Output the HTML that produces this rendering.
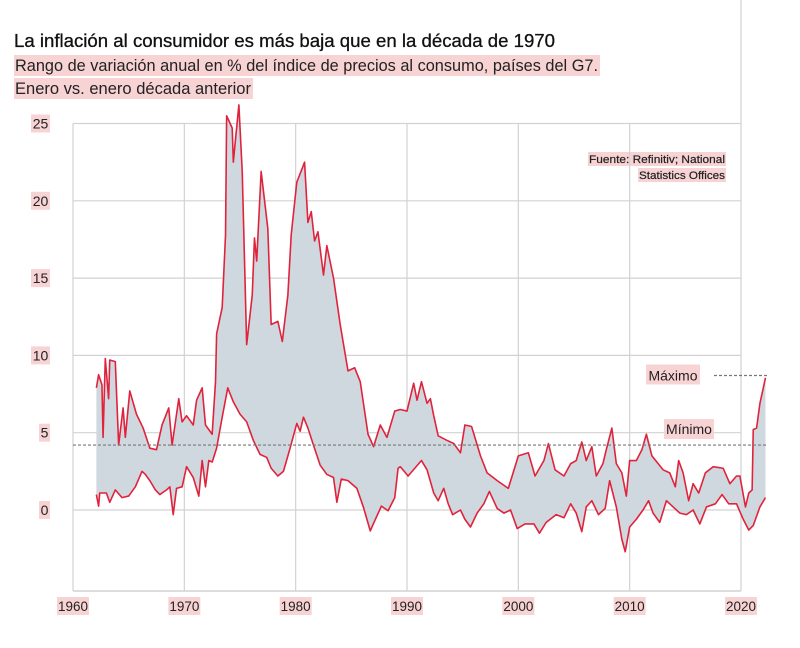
<!DOCTYPE html>
<html><head><meta charset="utf-8">
<style>
html,body{margin:0;padding:0;background:#fff;}
body{width:800px;height:643px;overflow:hidden;font-family:"Liberation Sans",sans-serif;}
svg text{font-family:"Liberation Sans",sans-serif;}
</style></head>
<body>
<svg id="chart" width="800" height="643" viewBox="0 0 800 643" xmlns="http://www.w3.org/2000/svg">
  <g>
    <text x="14" y="47" font-size="18.5" fill="#111" stroke="#111" stroke-width="0.3" textLength="541" lengthAdjust="spacingAndGlyphs">La inflación al consumidor es más baja que en la década de 1970</text>
    <rect x="14" y="55" width="586" height="21" fill="#f8d3d4"/>
    <text x="15" y="71" font-size="16.5" fill="#222" textLength="583" lengthAdjust="spacingAndGlyphs">Rango de variación anual en % del índice de precios al consumo, países del G7.</text>
    <rect x="14" y="78" width="239" height="21" fill="#f8d3d4"/>
    <text x="15" y="94" font-size="16.5" fill="#222" textLength="236" lengthAdjust="spacingAndGlyphs">Enero vs. enero década anterior</text>
  </g>
  <g>
    <rect x="588" y="152" width="138" height="14" fill="#f8d3d4"/>
    <text x="589" y="163" font-size="11" fill="#222" stroke="#222" stroke-width="0.2" textLength="136" lengthAdjust="spacingAndGlyphs">Fuente: Refinitiv; National</text>
    <rect x="638" y="168" width="88" height="14" fill="#f8d3d4"/>
    <text x="639" y="179" font-size="11" fill="#222" stroke="#222" stroke-width="0.2" textLength="86" lengthAdjust="spacingAndGlyphs">Statistics Offices</text>
  </g>
  <g id="grid"></g>
  <g id="area"></g>
  <g id="refs"></g>
  <g id="axes"></g>
</svg>
<script>
const upperYears=[1962.1,1962.3,1962.6,1962.7,1962.9,1963.2,1963.3,1963.8,1964.1,1964.5,1964.7,1965.1,1965.7,1966.3,1966.9,1967.5,1968.0,1968.6,1968.9,1969.5,1969.8,1970.2,1970.8,1971.1,1971.6,1971.9,1972.5,1972.8,1972.9,1973.4,1973.7,1973.8,1974.3,1974.4,1974.6,1974.9,1975.2,1975.6,1976.1,1976.3,1976.5,1976.9,1977.5,1977.8,1978.4,1978.8,1979.3,1979.6,1980.1,1980.8,1981.1,1981.4,1981.7,1982.0,1982.5,1982.8,1983.4,1984.0,1984.7,1985.3,1985.8,1986.5,1987.0,1987.6,1988.2,1988.9,
1989.4,1990.0,1990.6,1990.9,1991.3,1991.8,1992.1,1992.4,1992.8,1993.6,1994.2,1994.8,1995.2,1995.8,1996.6,1997.2,1998.1,1999.1,2000.0,2000.9,2001.5,2002.3,2002.7,2003.3,2004.1,2004.7,2005.2,2005.7,2006.1,2006.6,2007.0,2007.6,2007.9,2008.4,2008.8,2009.3,2009.7,2010.0,2010.6,2011.1,2011.5,2012.0,2013.0,2013.6,2014.1,2014.4,2014.8,2015.3,2015.7,2016.2,2016.8,2017.5,2018.4,2019.0,2019.6,2019.9,2020.4,2020.7,2021.0,2021.1,2021.4,2021.7,2022.2];
const upperValues=[7.9,8.75,8.1,4.7,9.8,7.2,9.7,9.6,4.2,6.6,4.7,7.7,6.2,5.3,4.0,3.9,5.5,6.6,4.2,7.2,5.7,6.1,5.5,7.1,7.9,5.5,4.9,8.3,11.4,13.1,17.8,25.5,24.7,22.5,24.0,26.2,21.9,10.7,13.9,17.6,16.1,21.9,18.2,12.0,12.2,10.9,13.9,17.8,21.2,22.5,18.6,19.3,17.4,18.0,15.2,17.1,15.0,12.0,9.0,9.2,8.3,4.9,4.1,5.5,4.7,6.4,
6.5,6.4,8.2,7.1,8.3,6.9,7.2,6.1,4.8,4.5,4.3,3.7,5.5,5.4,3.5,2.4,1.9,1.4,3.5,3.7,2.2,3.2,4.3,2.6,2.2,3.0,3.2,4.4,3.2,4.1,2.2,3.0,3.9,5.3,3.0,2.4,0.9,3.2,3.2,3.9,4.9,3.5,2.6,2.4,1.5,3.2,2.4,0.6,1.7,1.1,2.4,2.8,2.7,1.7,2.2,2.2,0.2,1.1,1.3,5.2,5.3,6.9,8.55];
const lowerYears=[1962.1,1962.3,1962.4,1963.0,1963.3,1963.8,1964.4,1965.0,1965.6,1966.2,1966.5,1966.9,1967.4,1967.8,1968.4,1968.7,1969.0,1969.3,1969.8,1970.2,1970.8,1971.3,1971.6,1971.9,1972.2,1972.5,1972.9,1973.4,1973.9,1974.4,1975.0,1975.6,1976.2,1976.8,1977.4,1977.8,1978.4,1978.9,1979.5,1980.1,1980.4,1980.7,1981.1,1981.6,1982.2,1982.8,1983.4,1983.7,1984.1,1984.7,1985.5,1986.1,1986.7,1987.1,1987.7,1988.3,1988.9,1989.2,
1989.4,1990.1,1990.7,1991.3,1991.8,1992.4,1992.8,1993.3,1993.7,1994.1,1994.8,1995.2,1995.7,1996.3,1996.9,1997.4,1998.1,1998.7,1999.3,1999.9,2000.6,2001.4,2001.9,2002.5,2003.4,2004.1,2004.7,2005.2,2005.7,2006.1,2006.6,2007.2,2007.8,2008.2,2008.8,2009.3,2009.6,2010.0,2010.6,2011.2,2011.7,2012.1,2012.7,2013.3,2013.9,2014.5,2015.1,2015.7,2016.3,2016.9,2017.7,2018.3,2018.9,2019.6,2020.2,2020.7,2021.1,2021.7,2022.2];
const lowerValues=[1.0,0.25,1.1,1.1,0.5,1.3,0.8,0.9,1.5,2.5,2.3,1.9,1.3,1.0,1.3,1.5,-0.3,1.4,1.5,2.8,2.1,0.9,3.2,1.5,3.2,3.1,4.0,6.0,7.9,7.0,6.2,5.7,4.5,3.6,3.4,2.7,2.2,2.5,4.0,5.6,5.1,6.0,5.3,4.2,2.9,2.3,2.1,0.5,2.0,1.9,1.4,0.15,-1.35,-0.7,0.25,-0.05,0.8,2.7,
2.8,2.2,2.7,3.2,2.6,1.1,0.6,1.4,0.4,-0.3,0,-0.6,-1.1,-0.2,0.4,1.2,0.1,-0.2,0,-1.2,-0.9,-0.9,-1.5,-0.8,-0.3,-0.5,0.4,-0.2,-1.4,0.2,0.6,-0.3,0.1,1.9,0.2,-1.9,-2.7,-1.1,-0.6,0,0.6,-0.2,-0.8,0.6,0.2,-0.2,-0.3,0,-0.9,0.2,0.4,1.0,0.4,0.4,-0.6,-1.3,-1.0,0.2,0.8];
const yTicks=[0,5,10,15,20,25];
const xTicks=[1960,1970,1980,1990,2000,2010,2020];
const minRef=[4.2];
const maxRef=[8.7];

const NS="http://www.w3.org/2000/svg";
const X0=73,X1=741,Y0=510,PXU=15.46;
function xs(y){return X0+(y-1960)*(X1-X0)/60;}
function ys(v){return Y0-v*PXU;}
function mk(tag,attrs,parent){const e=document.createElementNS(NS,tag);for(const k in attrs)e.setAttribute(k,attrs[k]);parent.appendChild(e);return e;}
const grid=document.getElementById('grid'),area=document.getElementById('area'),refs=document.getElementById('refs'),axes=document.getElementById('axes');
const gc="#d2d2d2";
yTicks.forEach(t=>{
  const l=mk('line',{x1:X0,x2:X1,y1:ys(t),y2:ys(t),stroke:gc,'stroke-width':1.2},grid);
  
  
  const w=t>=10?19:11;
  const r=mk('rect',{x:50-w,y:ys(t)-9,width:w,height:18,fill:'#f8d3d4'},axes);
  
  
  const tx=mk('text',{x:50-w/2,y:ys(t)+5,'font-size':14,'text-anchor':'middle',fill:'#222'},axes);
  tx.textContent=t;
  
  
});
xTicks.forEach(t=>{
  const top=t===2020?0:ys(25);
  const l=mk('line',{x1:xs(t),x2:xs(t),y1:top,y2:591,stroke:gc,'stroke-width':1.2},grid);
  
  
  const r=mk('rect',{x:xs(t)-16,y:597,width:32,height:18,fill:'#f8d3d4'},axes);
  
  
  const tx=mk('text',{x:xs(t),y:611,'font-size':14,'text-anchor':'middle',fill:'#222',textLength:30,lengthAdjust:'spacingAndGlyphs'},axes);
  tx.textContent=t;
  
  
});
const base=mk('line',{x1:X0,x2:X1,y1:591,y2:591,stroke:gc,'stroke-width':1.5},grid);



const up=upperYears.map((y,i)=>[xs(y),ys(upperValues[i])]);
const lo=lowerYears.map((y,i)=>[xs(y),ys(lowerValues[i])]);
const poly=mk('polygon',{points:up.concat(lo.slice().reverse()).map(p=>p.join(',')).join(' '),fill:'#cfd8de'},area);


const ul=mk('polyline',{points:up.map(p=>p.join(',')).join(' '),fill:'none',stroke:'#e0233c','stroke-width':1.6,'stroke-linejoin':'round'},area);


const ll=mk('polyline',{points:lo.map(p=>p.join(',')).join(' '),fill:'none',stroke:'#e0233c','stroke-width':1.6,'stroke-linejoin':'round'},area);



const mn=mk('line',{x1:X0,x2:768,y1:ys(minRef[0]),y2:ys(minRef[0]),stroke:'#777','stroke-width':1.2,'stroke-dasharray':'3,2'},refs);


const mx=mk('line',{x1:714,x2:768,y1:ys(maxRef[0]),y2:ys(maxRef[0]),stroke:'#777','stroke-width':1.2,'stroke-dasharray':'3,2'},refs);


const mxb=mk('rect',{x:646,y:ys(maxRef[0])-11,width:54,height:20,fill:'#f8d3d4'},refs);


const mxt=mk('text',{x:673,y:ys(maxRef[0])+5,'font-size':14,'text-anchor':'middle',fill:'#222'},refs);
mxt.textContent='Máximo';


const mnb=mk('rect',{x:664,y:ys(minRef[0])-26,width:50,height:20,fill:'#f8d3d4'},refs);


const mnt=mk('text',{x:689,y:ys(minRef[0])-11,'font-size':14,'text-anchor':'middle',fill:'#222'},refs);
mnt.textContent='Mínimo';


</script>
</body></html>
